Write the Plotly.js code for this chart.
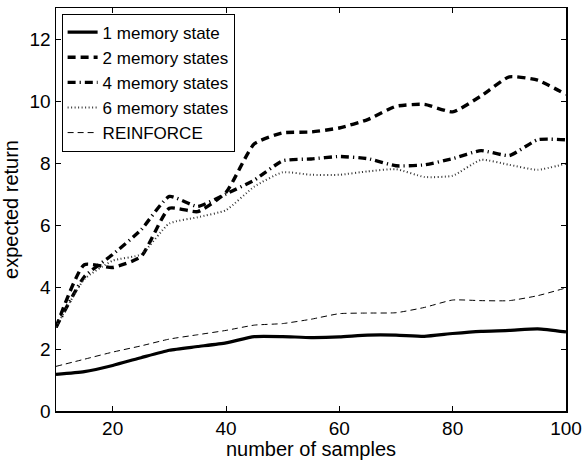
<!DOCTYPE html>
<html>
<head>
<meta charset="utf-8">
<script src="https://cdn.plot.ly/plotly-3.0.1.min.js"></script>
<style>
  html, body { margin: 0; padding: 0; background: #fff; }
  #chart { width: 585px; height: 460px; }
</style>
</head>
<body>
<div id="chart"></div>
<script>
// ---- data ----
const samples = [10, 15, 20, 25, 30, 35, 40, 45, 50, 55, 60, 65, 70, 75, 80, 85, 90, 95, 100];
const mem1 = [1.18, 1.27, 1.47, 1.72, 1.96, 2.08, 2.20, 2.40, 2.40, 2.37, 2.39, 2.45, 2.45, 2.41, 2.50, 2.57, 2.60, 2.65, 2.55];
const mem2 = [2.70, 4.72, 4.63, 4.98, 6.54, 6.43, 7.05, 8.62, 8.97, 9.00, 9.13, 9.40, 9.83, 9.89, 9.65, 10.16, 10.78, 10.67, 10.21];
const mem4 = [2.70, 4.33, 5.05, 5.84, 6.92, 6.60, 7.00, 7.45, 8.07, 8.13, 8.21, 8.14, 7.91, 7.94, 8.14, 8.40, 8.24, 8.75, 8.75];
const mem6 = [2.70, 4.25, 4.85, 5.05, 6.05, 6.25, 6.48, 7.24, 7.70, 7.62, 7.62, 7.73, 7.80, 7.55, 7.59, 8.10, 7.94, 7.78, 7.98];
const reinforce = [1.44, 1.67, 1.90, 2.10, 2.32, 2.46, 2.60, 2.77, 2.82, 2.96, 3.14, 3.16, 3.17, 3.34, 3.58, 3.56, 3.56, 3.72, 3.97];
const seriesNames = ["1 memory state", "2 memory states", "4 memory states", "6 memory states", "REINFORCE"];
const xTicks = [20, 40, 60, 80, 100];
const yTicks = [0, 2, 4, 6, 8, 10, 12];

const FONT = "Liberation Sans, Arial, Helvetica, sans-serif";
const smooth = {shape: "spline", smoothing: 0.5};

const traces = [
  {x: samples, y: mem1, name: seriesNames[0], mode: "lines",
   line: Object.assign({color: "#000", width: 3.2, dash: "solid"}, smooth)},
  {x: samples, y: mem2, name: seriesNames[1], mode: "lines",
   line: Object.assign({color: "#000", width: 3.4, dash: "8px,5px"}, smooth)},
  {x: samples, y: mem4, name: seriesNames[2], mode: "lines",
   line: Object.assign({color: "#000", width: 3.4, dash: "8px,4px,1.2px,4px"}, smooth)},
  {x: samples, y: mem6, name: seriesNames[3], mode: "lines",
   line: Object.assign({color: "#333", width: 2, dash: "1px,2.5px"}, smooth)},
  {x: samples, y: reinforce, name: seriesNames[4], mode: "lines",
   line: Object.assign({color: "#000", width: 1, dash: "6px,4px"}, smooth)}
];

const axisCommon = {
  showline: true, linecolor: "#000", linewidth: 1.5, mirror: "ticks",
  ticks: "inside", ticklen: 5, tickwidth: 1, tickcolor: "#000",
  showgrid: false, zeroline: false,
  tickfont: {family: FONT, size: 19, color: "#000"}
};

const layout = {
  width: 585, height: 460,
  margin: {l: 56, r: 19, t: 8, b: 49},
  paper_bgcolor: "#fff", plot_bgcolor: "#fff",
  font: {family: FONT, color: "#000"},
  showlegend: true,
  xaxis: Object.assign({}, axisCommon, {
    range: [10, 100], tickmode: "array", tickvals: xTicks,
    ticktext: xTicks.map(String),
    title: {text: "number of samples", font: {family: FONT, size: 20, color: "#000"}, standoff: 1}
  }),
  yaxis: Object.assign({}, axisCommon, {
    range: [0, 13], tickmode: "array", tickvals: yTicks,
    ticktext: yTicks.map(String),
    title: {text: "expected return", font: {family: FONT, size: 20, color: "#000"}, standoff: 6}
  }),
  legend: {
    x: 0.011, y: 0.986, xanchor: "left", yanchor: "top",
    bgcolor: "#fff", bordercolor: "#000", borderwidth: 1,
    font: {family: FONT, size: 17, color: "#000"},
    tracegroupgap: 0
  }
};

Plotly.newPlot("chart", traces, layout, {staticPlot: true, displayModeBar: false});
</script>
</body>
</html>
